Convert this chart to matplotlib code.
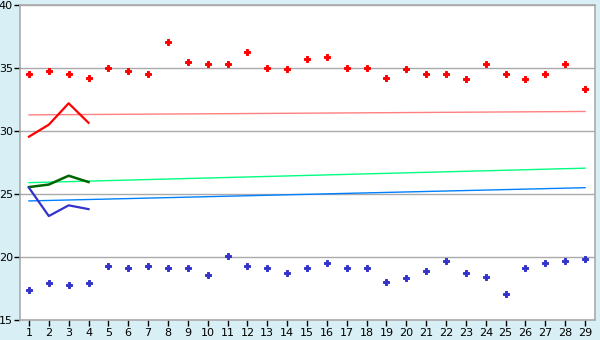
import numpy as np
import matplotlib
matplotlib.use("Agg")
import matplotlib.pyplot as plt

days = list(range(1, 30))

# upper scatter (red) and lower scatter (blue)
high_pts = [34.5, 34.8, 34.5, 34.2, 35.0, 34.8, 34.5, 37.1, 35.5, 35.3,
            35.3, 36.3, 35.0, 34.9, 35.75, 35.9, 35.0, 35.0, 34.2, 34.9,
            34.55, 34.55, 34.1, 35.3, 34.5, 34.1, 34.55, 35.3, 33.3]
low_pts = [17.35, 17.95, 17.8, 17.9, 19.25, 19.1, 19.25, 19.1, 19.1, 18.6,
           20.05, 19.25, 19.1, 18.7, 19.1, 19.5, 19.1, 19.1, 18.05, 18.3,
           18.85, 19.65, 18.7, 18.45, 17.1, 19.1, 19.55, 19.65, 19.85]

# short lines over the first four days
short_days = [1, 2, 3, 4]
red_line = [29.55, 30.5, 32.2, 30.65]
green_line = [25.55, 25.75, 26.45, 25.95]
blue_line = [25.5, 23.25, 24.1, 23.8]

# trend lines (end points)
trend_days = [1, 29]
red_trend = [31.28, 31.55]
green_trend = [25.9, 27.05]
blue_trend = [24.45, 25.5]

fig = plt.figure(figsize=(6, 3.4), dpi=100)
fig.patch.set_facecolor('#D8EFF5')
ax = fig.add_axes([20 / 600, 20 / 340, 575 / 600, 315 / 340])
ax.set_facecolor('white')

ax.plot(trend_days, red_trend, color='#FF8080', lw=1)
ax.plot(trend_days, green_trend, color='#00FF80', lw=1)
ax.plot(trend_days, blue_trend, color='#0080FF', lw=1)

ax.plot(short_days, red_line, color='#FF0000', lw=1.6)
ax.plot(short_days, green_line, color='#006400', lw=1.8)
ax.plot(short_days, blue_line, color='#3333CC', lw=1.6)

ax.plot(days, high_pts, ls='none', marker='P', ms=4.2, color='#FF0000', mew=0.7)
ax.plot(days, low_pts, ls='none', marker='P', ms=4.2, color='#3333CC', mew=0.7)

ax.set_xlim(0.55, 29.5)
ax.set_ylim(15, 40)
ax.set_xticks(days)
ax.set_yticks([15, 20, 25, 30, 35, 40])
ax.yaxis.grid(True, color='#AAAAAA', lw=1)
ax.set_axisbelow(True)
for s in ax.spines.values():
    s.set_color('#AAAAAA')
    s.set_linewidth(1.2)
ax.tick_params(axis='both', colors='#000000', labelsize=8, length=4,
               width=1, direction='out', pad=2)
ax.tick_params(axis='y', pad=1)

fig.savefig('out.png', dpi=100, facecolor=fig.get_facecolor())
